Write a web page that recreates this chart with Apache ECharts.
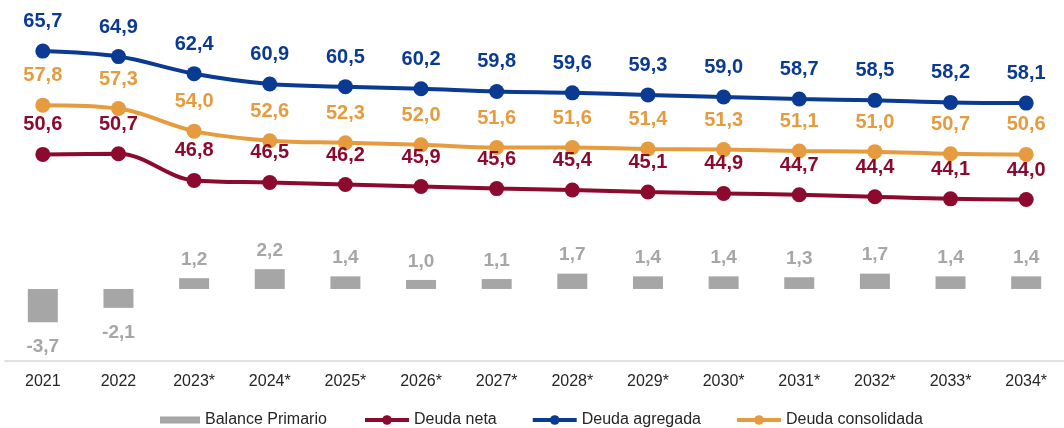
<!DOCTYPE html>
<html>
<head>
<meta charset="utf-8">
<script src="https://cdn.jsdelivr.net/npm/echarts@6/dist/echarts.min.js"></script>
<style>
  html, body { margin: 0; padding: 0; background: #fff; }
  #chart { width: 1064px; height: 428px; }
</style>
</head>
<body>
<div id="chart"></div>
<script>
  // categorías y series
  const years = ['2021', '2022', '2023*', '2024*', '2025*', '2026*', '2027*', '2028*', '2029*', '2030*', '2031*', '2032*', '2033*', '2034*'];
  const balancePrimario = [-3.7, -2.1, 1.2, 2.2, 1.4, 1.0, 1.1, 1.7, 1.4, 1.4, 1.3, 1.7, 1.4, 1.4];
  const deudaNeta = [50.6, 50.7, 46.8, 46.5, 46.2, 45.9, 45.6, 45.4, 45.1, 44.9, 44.7, 44.4, 44.1, 44.0];
  const deudaAgregada = [65.7, 64.9, 62.4, 60.9, 60.5, 60.2, 59.8, 59.6, 59.3, 59.0, 58.7, 58.5, 58.2, 58.1];
  const deudaConsolidada = [57.8, 57.3, 54.0, 52.6, 52.3, 52.0, 51.6, 51.6, 51.4, 51.3, 51.1, 51.0, 50.7, 50.6];

  const fmt = v => v.toFixed(1).replace('.', ',');

  function lineSerie(name, data, color){
    return {
      name: name,
      type: 'line',
      yAxisIndex: 1,
      data: data,
      smooth: 0.35,
      symbol: 'circle',
      symbolSize: 15,
      lineStyle: { color: color, width: 4 },
      itemStyle: { color: color },
      label: {
        show: true,
        position: 'top',
        distance: 12,
        color: color,
        fontSize: 20,
        fontWeight: 'bold',
        fontFamily: 'Liberation Sans, Arial',
        formatter: p => fmt(p.value)
      },
      z: 3
    };
  }

  const chart = echarts.init(document.getElementById('chart'));
  chart.setOption({
    animation: false,
    textStyle: { fontFamily: 'Liberation Sans, Arial' },
    grid: { left: 5, right: -6, top: 8, bottom: 67 },
    legend: [
      {
        left: 155, top: 407,
        data: ['Balance Primario'],
        icon: 'rect',
        itemWidth: 40, itemHeight: 7,
        textStyle: { fontSize: 16, color: '#262626' }
      },
      {
        left: 358, top: 407,
        data: ['Deuda neta', 'Deuda agregada', 'Deuda consolidada'],
        itemWidth: 44, itemHeight: 12, itemGap: 34,
        lineStyle: { width: 4 },
        textStyle: { fontSize: 16, color: '#262626' }
      }
    ],
    xAxis: {
      type: 'category',
      data: years,
      axisLine: { onZero: false, lineStyle: { color: '#D9D9D9', width: 1.5 } },
      axisTick: { show: false },
      axisLabel: { fontSize: 16, color: '#262626', margin: 13 }
    },
    yAxis: [
      { type: 'value', min: -8, max: 31.2, show: false, splitLine: { show: false } },
      { type: 'value', min: 20.4, max: 72, show: false, splitLine: { show: false } }
    ],
    series: [
      {
        name: 'Balance Primario',
        type: 'bar',
        yAxisIndex: 0,
        barWidth: 30,
        itemStyle: { color: '#A6A6A6' },
        data: balancePrimario.map(v => ({
          value: v,
          label: v < 0 ? { position: 'bottom', distance: 15 } : { position: 'top', distance: 9 }
        })),
        label: {
          show: true,
          color: '#A6A6A6',
          fontSize: 19,
          fontWeight: 'bold',
          formatter: p => fmt(p.value)
        }
      },
      lineSerie('Deuda neta', deudaNeta, '#8B0A2E'),
      lineSerie('Deuda agregada', deudaAgregada, '#0A3A92'),
      lineSerie('Deuda consolidada', deudaConsolidada, '#E69B3F')
    ]
  });
</script>
</body>
</html>
